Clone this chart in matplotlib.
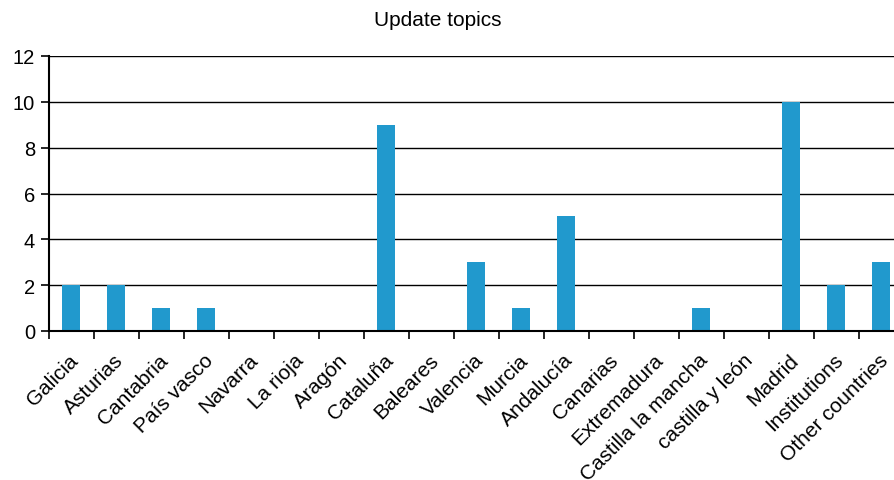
import matplotlib
matplotlib.use("Agg")
import matplotlib.pyplot as plt
import matplotlib.transforms as mtransforms
import numpy as np

plt.rcParams['font.family'] = ['Liberation Sans', 'DejaVu Sans']

categories = ["Galicia", "Asturias", "Cantabria", "País vasco", "Navarra", "La rioja",
              "Aragón", "Cataluña", "Baleares", "Valencia", "Murcia", "Andalucía",
              "Canarias", "Extremadura", "Castilla la mancha", "castilla y león",
              "Madrid", "Institutions", "Other countries"]
values = [2, 2, 1, 1, 0, 0, 0, 9, 0, 3, 1, 5, 0, 0, 1, 0, 10, 2, 3]
yticks = [0, 2, 4, 6, 8, 10, 12]

fig = plt.figure(figsize=(8.95, 4.81), dpi=100)
W, H = 895, 481
n = len(categories)
left_px, right_px = 49, 49 + 45 * n
ax = fig.add_axes([left_px / W, (H - 332) / H, (right_px - left_px) / W, (332 - 57) / H])

x = np.arange(n)
ax.bar(x, values, width=0.4, color='#2199cd', zorder=3)
ax.set_xlim(-0.5, n - 0.5)
ax.set_ylim(0, 12)
ax.set_yticks(yticks)
ax.set_yticklabels([str(t) for t in yticks], fontsize=14.5)
ax.yaxis.grid(True, color='black', linewidth=1.0, zorder=1)
ax.set_axisbelow(True)

ax.set_xticks(np.arange(n + 1) - 0.5)
ax.set_xticklabels([])
ax.tick_params(axis='x', which='major', length=6, width=1.2, color='black')
ax.tick_params(axis='y', length=6, width=1.2, pad=4, color='black')

offset = mtransforms.ScaledTranslation(-3 / 100, -19 / 100, fig.dpi_scale_trans)
label_tr = ax.get_xaxis_transform() + offset
for xi, name in zip(x, categories):
    ax.text(xi, 0, name, transform=label_tr, rotation=45, ha='right', va='top',
            rotation_mode='anchor', fontsize=15, clip_on=False)

for s in ['top', 'right']:
    ax.spines[s].set_visible(False)
for s in ['left', 'bottom']:
    ax.spines[s].set_linewidth(1.5)
    ax.spines[s].set_zorder(4)

fig.text(438 / W, 1 - 21 / H, "Update topics", ha='center', va='center', fontsize=15)

fig.savefig("out.png", dpi=100)
